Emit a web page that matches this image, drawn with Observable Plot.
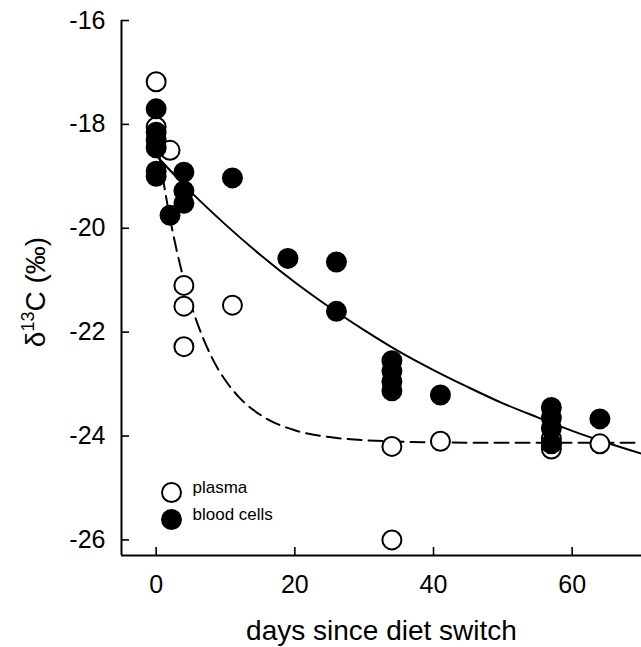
<!DOCTYPE html>
<html><head><meta charset="utf-8">
<script src="https://cdn.jsdelivr.net/npm/d3@7"></script>
<script src="https://cdn.jsdelivr.net/npm/@observablehq/plot@0.6"></script>
<style>body{margin:0;background:#fff} svg{display:block}</style>
</head><body><div id="chart"></div>
<script>
const plasmaDays = [0, 0, 2, 4, 4, 4, 11, 34, 34, 41, 57, 57, 57, 64];
const plasmaD13C = [-17.18, -18.05, -18.5, -21.1, -21.5, -22.28, -21.48, -24.2, -26.0, -24.1, -24.05, -24.15, -24.25, -24.15];
const cellDays = [0, 0, 0, 0, 0, 0, 2, 4, 4, 4, 11, 19, 26, 26, 34, 34, 34, 34, 41, 57, 57, 57, 57, 64];
const cellD13C = [-17.7, -18.15, -18.3, -18.45, -18.9, -19.0, -19.75, -18.92, -19.28, -19.52, -19.03, -20.58, -20.65, -21.6, -22.55, -22.75, -22.95, -23.13, -23.21, -23.45, -23.65, -23.85, -24.15, -23.67];
const cellFitDays = [0, 5, 10, 15, 20, 25, 30, 35, 40, 45, 50, 55, 60, 65, 70];
const cellFitD13C = [-18.6, -19.3, -19.93, -20.51, -21.04, -21.52, -21.96, -22.37, -22.73, -23.06, -23.37, -23.64, -23.9, -24.13, -24.34];
const plasmaFitDays = [0, 1, 2, 3, 4, 5, 6, 8, 10, 12, 15, 20, 25, 30, 40, 50, 60, 70];
const plasmaFitD13C = [-18.18, -19.06, -19.81, -20.45, -20.99, -21.46, -21.85, -22.48, -22.93, -23.26, -23.59, -23.89, -24.02, -24.08, -24.12, -24.13, -24.13, -24.13];
const xTicks = [0, 20, 40, 60];
const yTicks = [-26, -24, -22, -20, -18, -16];
const legendLabels = ["plasma", "blood cells"];
const xLabel = "days since diet switch";

const zip = (xs, ys) => xs.map((x, i) => ({x, y: ys[i]}));
const plasma = zip(plasmaDays, plasmaD13C);
const cells = zip(cellDays, cellD13C);
const cellFit = zip(cellFitDays, cellFitD13C);
const plasmaFit = zip(plasmaFitDays, plasmaFitD13C);
const font = "'Liberation Sans', Arial, sans-serif";
const fmt = d => String(d);

const plot = Plot.plot({
  width: 641, height: 647,
  marginLeft: 121, marginRight: 0, marginTop: 20, marginBottom: 92,
  style: {fontFamily: font, background: "#fff", color: "#000", overflow: "visible"},
  x: {domain: [-5, 70]},
  y: {domain: [-26.3, -16]},
  marks: [
    Plot.axisX(xTicks, {tickSize: -8, tickPadding: 28, fontSize: 25, label: null, strokeWidth: 1.6, tickFormat: fmt}),
    Plot.axisY(yTicks, {tickSize: -8, tickPadding: 24, fontSize: 25, label: null, strokeWidth: 1.6, tickFormat: fmt}),
    Plot.ruleX([-5], {strokeWidth: 2}),
    Plot.ruleY([-26.3], {strokeWidth: 2}),
    Plot.line(plasmaFit, {x: "x", y: "y", curve: "monotone-x", strokeWidth: 2, strokeDasharray: "14,7"}),
    Plot.line(cellFit, {x: "x", y: "y", curve: "monotone-x", strokeWidth: 2}),
    Plot.dot(plasma, {x: "x", y: "y", r: 9.5, fill: "#fff", stroke: "#000", strokeWidth: 2}),
    Plot.dot(cells, {x: "x", y: "y", r: 9.5, fill: "#000", stroke: "#000", strokeWidth: 2}),
    Plot.dot([legendLabels[0]], {frameAnchor: "bottom-left", dx: 50, dy: -63, r: 9.5, fill: "#fff", stroke: "#000", strokeWidth: 2}),
    Plot.dot([legendLabels[1]], {frameAnchor: "bottom-left", dx: 50, dy: -36, r: 9.5, fill: "#000", stroke: "#000", strokeWidth: 2}),
    Plot.text([legendLabels[0]], {text: d => d, frameAnchor: "bottom-left", dx: 71, dy: -63, textAnchor: "start", fontSize: 17}),
    Plot.text([legendLabels[1]], {text: d => d, frameAnchor: "bottom-left", dx: 71, dy: -36, textAnchor: "start", fontSize: 17}),
    Plot.text([xLabel], {text: d => d, frameAnchor: "bottom", dy: 84, fontSize: 28, lineAnchor: "bottom"})
  ]
});

const svg = d3.select(plot);
const t = svg.append("text")
  .attr("transform", "translate(45,292) rotate(-90)")
  .attr("text-anchor", "middle")
  .attr("font-family", font)
  .attr("font-size", 28)
  .attr("fill", "#000");
t.append("tspan").text("δ");
t.append("tspan").attr("font-size", 18).attr("dy", -11).text("13");
t.append("tspan").attr("dy", 11).text("C (‰)");

document.getElementById("chart").append(plot);
</script>
</body></html>
